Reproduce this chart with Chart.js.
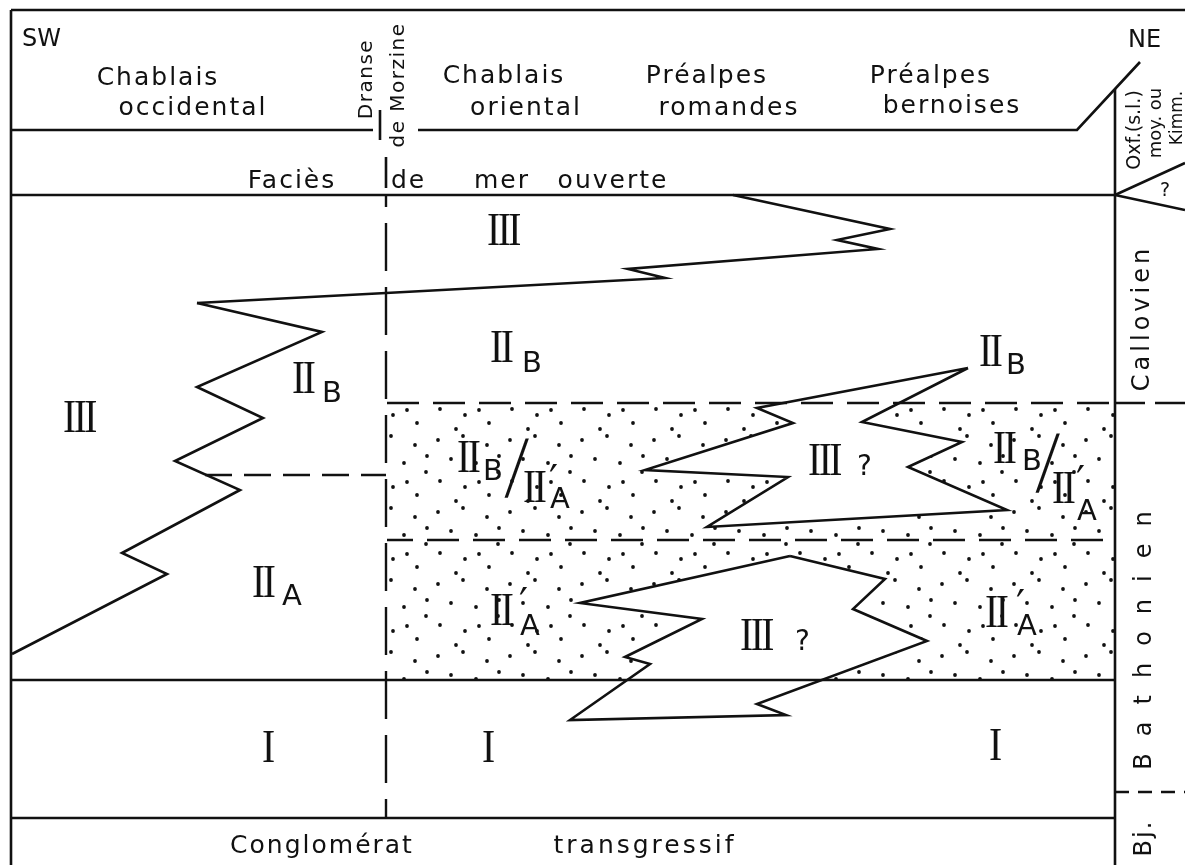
<!DOCTYPE html>
<html>
<head>
<meta charset="utf-8">
<script src="https://cdn.jsdelivr.net/npm/chart.js@4.4.0/dist/chart.umd.min.js"></script>
<style>
  html, body { margin: 0; padding: 0; background: #fff; }
  #wrap { width: 1185px; height: 865px; }
</style>
</head>
<body>
<div id="wrap"><canvas id="section" width="1185" height="865"></canvas></div>
<script>
// Section SW -> NE, values in drawing units (x along section, y downwards = older)

// frame and stage boundaries
const frameTop = [[11, 10], [1185, 10]];
const frameLeft = [[11, 10], [11, 865]];
const headerLeft = [[11, 130], [373, 130]];
const headerRight = [[418, 130], [1077, 130], [1140, 62]];
const faciesBase = [[11, 195], [1115, 195]];
const stageColumn = [[1115, 89], [1115, 865]];
const oxfUpper = [[1115, 195], [1185, 163]];
const oxfLower = [[1115, 195], [1185, 210]];
const unitIBase = [[11, 680], [1115, 680]];
const conglomerateTop = [[11, 818], [1115, 818]];

// Dranse de Morzine
const dranseTick1 = [[380, 110], [380, 140]];
const dranseTick2 = [[386, 157], [386, 188]];
const dranseLine = [[386, 195], [386, 818]];

// dashed limits
const limitIIbIIa = [[387, 403], [1115, 403]];
const limitIIaPrime = [[387, 540], [1115, 540]];
const limitWest = [[205, 475], [386, 475]];
const limitCallovien = [[1115, 403], [1185, 403]];
const limitBajocien = [[1115, 792], [1185, 792]];

// facies boundaries (interfingering)
const boundaryIII = [[197, 303], [386, 293], [665, 278], [628, 269], [878, 249],
  [837, 240], [890, 229], [733, 195]];
const boundaryWest = [[197, 303], [322, 332], [197, 387], [263, 418], [175, 461],
  [240, 490], [122, 553], [167, 574], [12, 654]];
const wedgeUpper = [[968, 368], [757, 408], [793, 423], [645, 470], [788, 477],
  [707, 527], [1007, 510], [908, 467], [962, 442], [862, 422], [968, 368]];
const wedgeLower = [[790, 556], [580, 603], [702, 619], [625, 657], [650, 664],
  [570, 720], [786, 715], [757, 704], [927, 641], [853, 609], [885, 579], [790, 556]];
const dottedZone = [[387, 403], [1115, 403], [1115, 680], [387, 680], [387, 403]];

// texts
const headings = [
  { text: 'SW', x: 22, y: 46, size: 24, align: 'left', ls: 0 },
  { text: 'NE', x: 1128, y: 47, size: 24, align: 'left', ls: 0 },
  { text: 'Chablais', x: 158, y: 85, size: 25, ls: 2 },
  { text: 'occidental', x: 193, y: 115, size: 25, ls: 2 },
  { text: 'Chablais', x: 504, y: 83, size: 25, ls: 2 },
  { text: 'oriental', x: 526, y: 115, size: 25, ls: 2 },
  { text: 'Préalpes', x: 707, y: 83, size: 25, ls: 2 },
  { text: 'romandes', x: 729, y: 115, size: 25, ls: 2 },
  { text: 'Préalpes', x: 931, y: 83, size: 25, ls: 2 },
  { text: 'bernoises', x: 952, y: 113, size: 25, ls: 2 },
  { text: 'Faciès', x: 292, y: 188, size: 25, ls: 2 },
  { text: 'de', x: 391, y: 188, size: 25, align: 'left', ls: 2 },
  { text: 'mer', x: 502, y: 188, size: 25, ls: 2 },
  { text: 'ouverte', x: 613, y: 188, size: 25, ls: 2 },
  { text: 'Conglomérat', x: 322, y: 853, size: 25, ls: 2 },
  { text: 'transgressif', x: 645, y: 853, size: 25, ls: 3 },
  { text: '?', x: 1165, y: 196, size: 19, ls: 0 }
];
const verticalTexts = [
  { text: 'Dranse', x: 372, y: 79, size: 20, ls: 1.5 },
  { text: 'de Morzine', x: 404, y: 85, size: 20, ls: 1.5 },
  { text: 'Oxf.(s.l.)', x: 1140, y: 130, size: 19, ls: 0 },
  { text: 'moy. ou', x: 1161, y: 123, size: 18, ls: 0 },
  { text: 'Kimm.', x: 1182, y: 118, size: 17, ls: 0 },
  { text: 'Callovien', x: 1149, y: 318, size: 24, ls: 4 },
  { text: 'Bathonien', x: 1151, y: 632, size: 24, ls: 17 },
  { text: 'Bj.', x: 1151, y: 838, size: 24, ls: 2 }
];
// facies units: numeral, prime, subscript
const units = [
  { num: 'III', x: 63, y: 432 },
  { num: 'II', x: 292, y: 393, sub: 'B', sx: 322, sy: 402 },
  { num: 'II', x: 252, y: 597, sub: 'A', sx: 282, sy: 605 },
  { num: 'III', x: 487, y: 245 },
  { num: 'II', x: 490, y: 362, sub: 'B', sx: 522, sy: 372 },
  { num: 'II', x: 979, y: 366, sub: 'B', sx: 1006, sy: 374 },
  { num: 'II', x: 457, y: 472, sub: 'B', sx: 483, sy: 480 },
  { num: 'II', x: 523, y: 502, prime: true, sub: 'A', sx: 550, sy: 508 },
  { num: 'II', x: 993, y: 463, sub: 'B', sx: 1022, sy: 470 },
  { num: 'II', x: 1052, y: 503, prime: true, sub: 'A', sx: 1077, sy: 520 },
  { num: 'II', x: 490, y: 625, prime: true, sub: 'A', sx: 520, sy: 635 },
  { num: 'II', x: 985, y: 627, prime: true, sub: 'A', sx: 1017, sy: 635 },
  { num: 'III', x: 808, y: 475, sub: '?', sx: 857, sy: 475 },
  { num: 'III', x: 740, y: 650, sub: '?', sx: 795, sy: 650 },
  { num: 'I', x: 262, y: 762 },
  { num: 'I', x: 482, y: 762 },
  { num: 'I', x: 989, y: 760 }
];
// centre of the tall slash in "IIB / II'A"
const slashes = [{ x: 516, y: 472 }, { x: 1047, y: 467 }];

const FONT = '"DejaVu Sans", "Noto Sans", sans-serif';
const NUM_FONT = '"Liberation Serif", "DejaVu Serif", serif';
const INK = '#111';

const ctx = document.getElementById('section').getContext('2d');

// stipple for the Bathonian 'IIA prime' facies
function stipplePattern() {
  const tile = document.createElement('canvas');
  tile.width = 72;
  tile.height = 72;
  const g = tile.getContext('2d');
  g.fillStyle = INK;
  const dots = [[6, 8], [31, 4], [55, 13], [19, 27], [44, 31], [66, 40],
    [8, 49], [33, 55], [57, 63], [24, 69], [47, 50], [67, 24]];
  dots.forEach(([x, y]) => {
    g.beginPath();
    g.arc(x, y, 1.9, 0, Math.PI * 2);
    g.fill();
  });
  return ctx.createPattern(tile, 'repeat');
}

const pts = arr => arr.map(([x, y]) => ({ x: x, y: y }));

function solid(arr) {
  return { data: pts(arr), showLine: true, borderColor: INK, borderWidth: 2.6, fill: false };
}
function dashed(arr, dash, offset) {
  return { data: pts(arr), showLine: true, borderColor: INK, borderWidth: 2.4,
    borderDash: dash, borderDashOffset: offset || 0, fill: false };
}
function wedge(arr) {
  return { data: pts(arr), showLine: true, borderColor: INK, borderWidth: 2.6,
    fill: 'shape', backgroundColor: '#fff' };
}

// listed bottom first
const layers = [
  { data: pts(dottedZone), showLine: true, borderWidth: 0, borderColor: 'rgba(0,0,0,0)',
    fill: 'shape', backgroundColor: stipplePattern() },
  wedge(wedgeUpper),
  wedge(wedgeLower),
  dashed(limitIIbIIa, [32, 14], 0),
  dashed(limitIIaPrime, [32, 14], 6),
  dashed(limitWest, [27, 12], 0),
  dashed(limitCallovien, [30, 10], 0),
  dashed(limitBajocien, [14, 9], 0),
  dashed(dranseLine, [48, 16], 36),
  solid(dranseTick1),
  solid(dranseTick2),
  solid(boundaryIII),
  solid(boundaryWest),
  solid(frameTop),
  solid(frameLeft),
  solid(headerLeft),
  solid(headerRight),
  solid(faciesBase),
  solid(stageColumn),
  solid(oxfUpper),
  solid(oxfLower),
  solid(unitIBase),
  solid(conglomerateTop)
];

const sectionText = {
  id: 'sectionText',
  afterDatasetsDraw(chart) {
    const c = chart.ctx;
    const sx = v => chart.scales.x.getPixelForValue(v);
    const sy = v => chart.scales.y.getPixelForValue(v);
    c.save();
    c.fillStyle = INK;
    c.textBaseline = 'alphabetic';

    headings.forEach(h => {
      c.font = h.size + 'px ' + FONT;
      c.letterSpacing = h.ls + 'px';
      c.textAlign = h.align || 'center';
      c.fillText(h.text, sx(h.x), sy(h.y));
    });

    verticalTexts.forEach(v => {
      c.save();
      c.translate(sx(v.x), sy(v.y));
      c.rotate(-Math.PI / 2);
      c.font = v.size + 'px ' + FONT;
      c.letterSpacing = v.ls + 'px';
      c.textAlign = 'center';
      c.fillText(v.text, 0, 0);
      c.restore();
    });

    c.textAlign = 'left';
    units.forEach(u => {
      // serif capitals pushed together so the serifs join into bars
      c.save();
      c.translate(sx(u.x), sy(u.y));
      c.scale(0.84, 1);
      c.font = '47px ' + NUM_FONT;
      c.letterSpacing = '-3px';
      c.fillText(u.num, 0, 0);
      c.restore();
      c.letterSpacing = '0px';
      if (u.prime) {
        c.font = '40px ' + FONT;
        c.fillText('\u2032', sx(u.sx - 1), sy(u.y - 8));
      }
      if (u.sub) {
        c.font = (u.sub === '?' ? 28 : 29) + 'px ' + FONT;
        c.fillText(u.sub, sx(u.sx), sy(u.sy));
      }
    });

    // tall thin slash between B and A' facies
    slashes.forEach(s => {
      c.save();
      c.translate(sx(s.x), sy(s.y));
      c.transform(1, 0, -0.33, 1.8, 0, 0);
      c.font = '40px ' + FONT;
      c.textAlign = 'center';
      c.textBaseline = 'middle';
      c.fillText('/', 0, 0);
      c.restore();
    });
    c.restore();
  }
};

new Chart(ctx, {
  type: 'scatter',
  data: { datasets: layers.slice().reverse() },
  options: {
    responsive: false,
    animation: false,
    events: [],
    layout: { padding: 0 },
    elements: { point: { radius: 0 }, line: { tension: 0 } },
    plugins: {
      legend: { display: false },
      tooltip: { enabled: false }
    },
    scales: {
      x: { type: 'linear', min: 0, max: 1185, display: false },
      y: { type: 'linear', min: 0, max: 865, reverse: true, display: false }
    }
  },
  plugins: [sectionText]
});
</script>
</body>
</html>
